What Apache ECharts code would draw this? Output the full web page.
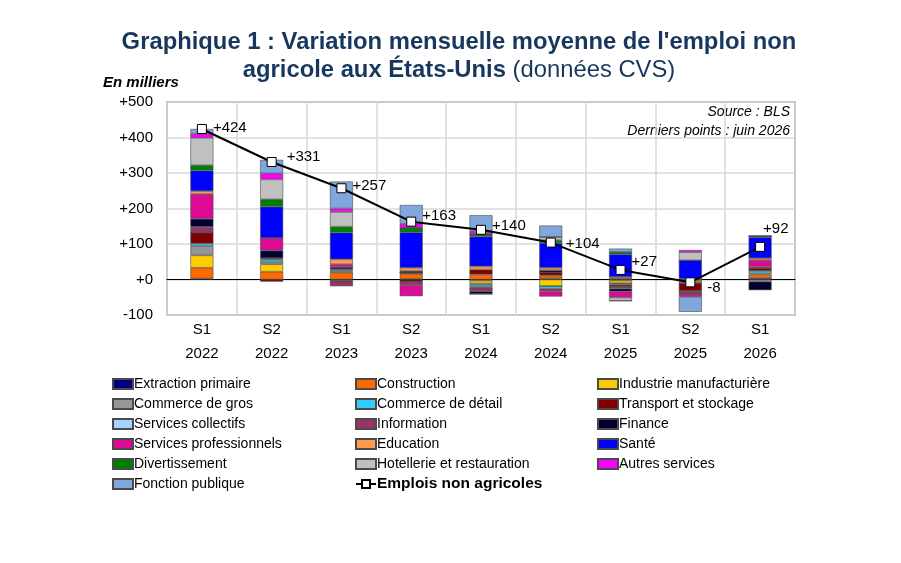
<!DOCTYPE html>
<html>
<head>
<meta charset="utf-8">
<script src="https://cdn.jsdelivr.net/npm/echarts@6/dist/echarts.min.js"></script>
<style>
  html, body { margin: 0; padding: 0; background: #fff; }
  #chart { width: 901px; height: 563px; }
</style>
</head>
<body>
<div id="chart"></div>
<script>
// semestres
var categories = ['S1\n2022', 'S2\n2022', 'S1\n2023', 'S2\n2023', 'S1\n2024', 'S2\n2024', 'S1\n2025', 'S2\n2025', 'S1\n2026'];

// contributions par secteur (milliers, moyenne mensuelle)
var extraction   = [3, 0, -3, 2, -3, 3, 3, 0, 4];
var construction = [30, 22, 19, 14, 14, 8, -3, -3, 10];
var industrie    = [35, 21, 3, 3, -8, -19, -8, -5, 3];
var commerceGros = [26, 6, 4, 0, -4, 0, 0, -3, -6];
var commerceDet  = [7, 7, 3, 0, -6, -7, -4, 0, 7];
var transport    = [31, -6, -3, -7, 14, 9, -6, -21, 8];
var collectifs   = [0, 2, 0, 0, -2, 0, 0, 0, 0];
var information  = [16, 2, -13, -9, -10, -8, -5, -9, 4];
var finance      = [23, 22, 6, 5, -8, 6, -8, 0, -24];
var servPro      = [70, 35, 8, -31, 0, -14, -17, -8, 19];
var education    = [8, 0, 14, 9, 9, 7, 4, 2, 5];
var sante        = [58, 88, 75, 100, 84, 70, 64, 52, 59];
var divert       = [15, 21, 17, 13, 7, 8, 7, 0, 3];
var hotellerie   = [77, 56, 41, 0, 0, 9, -9, 23, 0];
var autres       = [12, 17, 10, 11, 9, 0, 0, 6, 0];
var fonctionPub  = [13, 38, 76, 53, 44, 32, 9, -42, 0];
// total emplois non agricoles
var total        = [424, 331, 257, 163, 140, 104, 27, -8, 92];
var totalLabels  = ['+424', '+331', '+257', '+163', '+140', '+104', '+27', '-8', '+92'];

var yTicks = [-100, 0, 100, 200, 300, 400, 500];

var sectors = [
  { name: 'Extraction primaire', data: extraction, color: '#000080' },
  { name: 'Construction', data: construction, color: '#FF6A00' },
  { name: 'Industrie manufacturière', data: industrie, color: '#FFCC00' },
  { name: 'Commerce de gros', data: commerceGros, color: '#969696' },
  { name: 'Commerce de détail', data: commerceDet, color: '#33CCFF' },
  { name: 'Transport et stockage', data: transport, color: '#800000' },
  { name: 'Services collectifs', data: collectifs, color: '#A6D2FF' },
  { name: 'Information', data: information, color: '#993366' },
  { name: 'Finance', data: finance, color: '#000033' },
  { name: 'Services professionnels', data: servPro, color: '#DD0A96' },
  { name: 'Education', data: education, color: '#FF9A50' },
  { name: 'Santé', data: sante, color: '#0000FF' },
  { name: 'Divertissement', data: divert, color: '#008000' },
  { name: 'Hotellerie et restauration', data: hotellerie, color: '#C0C0C0' },
  { name: 'Autres services', data: autres, color: '#FF00FF' },
  { name: 'Fonction publique', data: fonctionPub, color: '#80A8DC' }
];

var font = 'Liberation Sans, Arial, sans-serif';

var series = sectors.map(function (s) {
  return {
    name: s.name,
    type: 'bar',
    stack: 'emploi',
    stackStrategy: 'samesign',
    barWidth: 23,
    data: s.data,
    itemStyle: { color: s.color, borderColor: '#4a4a4a', borderWidth: 0.6 },
    emphasis: { disabled: true }
  };
});

// position des étiquettes de la courbe
var labelOffsets = [[0, -1], [4, -5], [0, -2], [0, -6], [0, -4], [4, 1], [0, -8], [6, 6], [-8, -18]];

series.push({
  name: 'Emplois non agricoles',
  type: 'line',
  z: 5,
  data: total.map(function (v, i) {
    return {
      value: v,
      label: { offset: labelOffsets[i], formatter: totalLabels[i] }
    };
  }),
  symbol: 'rect',
  symbolSize: 9,
  lineStyle: { color: '#000', width: 2 },
  itemStyle: { color: '#fff', borderColor: '#000', borderWidth: 1 },
  label: {
    show: true,
    position: 'right',
    distance: 6,
    color: '#000',
    fontSize: 15,
    fontFamily: font
  },
  emphasis: { disabled: true }
});

function legendCol(left, names) {
  return {
    orient: 'vertical',
    left: left,
    top: 376,
    padding: 0,
    itemWidth: 20,
    itemHeight: 10,
    itemGap: 4,
    selectedMode: false,
    textStyle: { fontSize: 14, fontFamily: font, color: '#000', lineHeight: 16, padding: [0, 0, 0, -4] },
    data: names.map(function (n) {
      return typeof n === 'string' ? { name: n, icon: 'rect' } : n;
    })
  };
}

var option = {
  backgroundColor: '#fff',
  animation: false,
  title: [{
    text: "Graphique 1 : Variation mensuelle moyenne de l'emploi non",
    left: 454,
    top: 25,
    textAlign: 'center',
    textStyle: { fontSize: 23.8, fontWeight: 'bold', color: '#17375E', fontFamily: font }
  }, {
    text: '{b|agricole aux États-Unis}{n| (données CVS)}',
    left: 454,
    top: 53,
    textAlign: 'center',
    textStyle: {
      rich: {
        b: { fontSize: 23.8, fontWeight: 'bold', color: '#17375E', fontFamily: font },
        n: { fontSize: 23.8, fontWeight: 'normal', color: '#17375E', fontFamily: font }
      }
    }
  }],
  graphic: [{
    type: 'text', left: 103, top: 75,
    style: { text: 'En milliers', font: 'italic bold 15px ' + font, fill: '#000' }
  }, {
    type: 'text', right: 111, top: 105,
    style: { text: 'Source : BLS', font: 'italic 14px ' + font, fill: '#000', textAlign: 'right' }
  }, {
    type: 'text', right: 111, top: 124,
    style: { text: 'Derniers points : juin 2026', font: 'italic 14px ' + font, fill: '#000', textAlign: 'right' }
  }],
  legend: [
    legendCol(112, ['Extraction primaire', 'Commerce de gros', 'Services collectifs', 'Services professionnels', 'Divertissement', 'Fonction publique']),
    legendCol(355, ['Construction', 'Commerce de détail', 'Information', 'Education', 'Hotellerie et restauration',
      { name: 'Emplois non agricoles', textStyle: { fontWeight: 'bold', fontSize: 15.5 } }]),
    legendCol(597, ['Industrie manufacturière', 'Transport et stockage', 'Finance', 'Santé', 'Autres services'])
  ],
  grid: {
    left: 167, right: 106, top: 102, bottom: 248,
    show: true, borderColor: '#7f7f7f', borderWidth: 1.5, containLabel: false
  },
  xAxis: {
    type: 'category',
    data: categories,
    axisLine: { onZero: true, lineStyle: { color: '#000', width: 1 } },
    axisTick: { show: false },
    splitLine: { show: true, lineStyle: { color: '#d9d9d9', width: 1.5 } },
    axisLabel: {
      interval: 0, color: '#000', fontSize: 15, fontFamily: font, lineHeight: 24, margin: 3,
      verticalAlign: 'top'
    }
  },
  yAxis: {
    type: 'value',
    min: yTicks[0],
    max: yTicks[yTicks.length - 1],
    interval: 100,
    axisLine: { show: false },
    axisTick: { show: false },
    splitLine: { lineStyle: { color: '#d9d9d9', width: 1.5 } },
    axisLabel: {
      color: '#000', fontSize: 15, fontFamily: font, margin: 14,
      formatter: function (v) { return v >= 0 ? '+' + v : String(v); }
    }
  },
  series: series
};

var chart = echarts.init(document.getElementById('chart'), null, { renderer: 'canvas' });
chart.setOption(option);
</script>
</body>
</html>
